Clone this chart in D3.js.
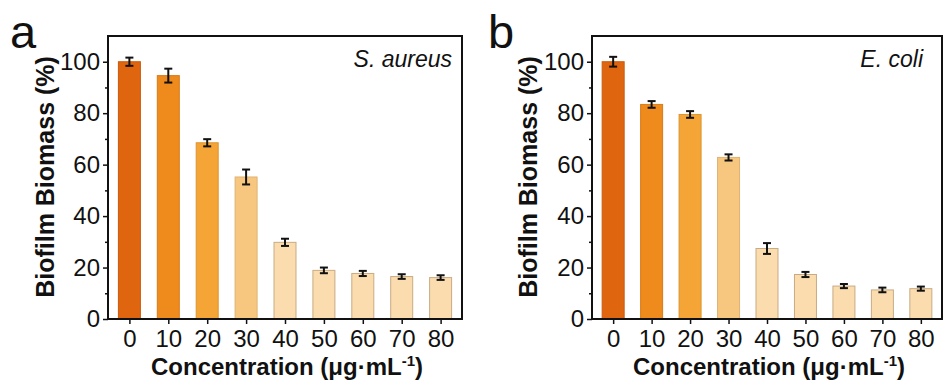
<!DOCTYPE html>
<html>
<head>
<meta charset="utf-8">
<script src="https://cdn.jsdelivr.net/npm/d3@7"></script>
<style>
  body { margin: 0; background: #fff; }
  svg { font-family: Arial, "Liberation Sans", sans-serif; }
</style>
</head>
<body>
<svg id="chart" width="943" height="383"></svg>
<script>
const concentrations = [0, 10, 20, 30, 40, 50, 60, 70, 80];
const barColors = ["#e0650f", "#ef8a1c", "#f4a535", "#f7c77f", "#fadcaf", "#fadcaf", "#fadcaf", "#fadcaf", "#fadcaf"];
const saureusMean = [100, 94.6, 68.5, 55.2, 29.8, 18.9, 17.7, 16.5, 16.1];
const saureusErr  = [1.6, 2.7, 1.4, 2.9, 1.4, 1.1, 1.0, 0.9, 0.9];
const ecoliMean   = [100, 83.4, 79.5, 62.8, 27.4, 17.3, 12.8, 11.3, 11.8];
const ecoliErr    = [1.9, 1.3, 1.3, 1.2, 2.1, 1.0, 0.8, 0.9, 0.8];
const yTicks = [0, 20, 40, 60, 80, 100];

const svg = d3.select("#chart");

function drawPanel(opts) {
  const { left, right, letter, letterX, species, means, errs, ylabelX } = opts;
  const top = 36, bottom = 319;
  const g = svg.append("g");

  const x = d3.scaleLinear().domain([-5.5, 85.5]).range([left, right]);
  const y = d3.scaleLinear().domain([0, 110]).range([bottom, top]);
  const bw = 22;

  // bars
  g.selectAll(".bar")
    .data(concentrations)
    .join("rect")
    .attr("class", "bar")
    .attr("x", d => x(d) - bw / 2)
    .attr("width", bw)
    .attr("y", (d, i) => y(means[i]))
    .attr("height", (d, i) => bottom - y(means[i]))
    .attr("fill", (d, i) => barColors[i])
    .attr("stroke", (d, i) => i < 4 ? d3.color(barColors[i]).darker(0.3) : "#c9ab83")
    .attr("stroke-width", 1);

  // error bars
  const eb = g.selectAll(".err")
    .data(concentrations)
    .join("g")
    .attr("class", "err")
    .attr("stroke", "#111")
    .attr("stroke-width", 2);
  eb.append("line")
    .attr("x1", d => x(d)).attr("x2", d => x(d))
    .attr("y1", (d, i) => y(means[i] - errs[i]))
    .attr("y2", (d, i) => y(means[i] + errs[i]));
  eb.append("line")
    .attr("x1", d => x(d) - 4).attr("x2", d => x(d) + 4)
    .attr("y1", (d, i) => y(means[i] + errs[i]))
    .attr("y2", (d, i) => y(means[i] + errs[i]));
  eb.append("line")
    .attr("x1", d => x(d) - 4).attr("x2", d => x(d) + 4)
    .attr("y1", (d, i) => y(means[i] - errs[i]))
    .attr("y2", (d, i) => y(means[i] - errs[i]));

  // frame
  g.append("rect")
    .attr("x", left).attr("y", top)
    .attr("width", right - left).attr("height", bottom - top)
    .attr("fill", "none").attr("stroke", "#111").attr("stroke-width", 2);

  // y axis
  const ya = g.append("g")
    .attr("transform", `translate(${left},0)`)
    .call(d3.axisLeft(y).tickValues(yTicks).tickSize(5).tickPadding(3));
  ya.select(".domain").remove();
  ya.selectAll("line").attr("stroke", "#111").attr("stroke-width", 1.5);
  ya.selectAll("text").attr("font-size", 24).attr("fill", "#111");
  g.append("g")
    .attr("transform", `translate(${left},0)`)
    .call(d3.axisLeft(y).tickValues([10, 30, 50, 70, 90]).tickSize(3).tickFormat(""))
    .call(s => s.select(".domain").remove())
    .selectAll("line").attr("stroke", "#111").attr("stroke-width", 1.5);

  // x axis
  const xa = g.append("g")
    .attr("transform", `translate(0,${bottom})`)
    .call(d3.axisBottom(x).tickValues(concentrations).tickSize(5).tickPadding(6));
  xa.select(".domain").remove();
  xa.selectAll("line").attr("stroke", "#111").attr("stroke-width", 1.5);
  xa.selectAll("text").attr("font-size", 24).attr("fill", "#111");

  // axis titles
  const xt = g.append("text")
    .attr("x", (left + right) / 2 + 2)
    .attr("y", 375)
    .attr("text-anchor", "middle")
    .attr("font-size", 24)
    .attr("font-weight", "bold")
    .attr("fill", "#111");
  xt.append("tspan").text("Concentration (μg·mL");
  xt.append("tspan").attr("dy", -9).attr("font-size", 15).text("-1");
  xt.append("tspan").attr("dy", 9).text(")");

  g.append("text")
    .attr("transform", `translate(${ylabelX},177) rotate(-90)`)
    .attr("text-anchor", "middle")
    .attr("font-size", 25)
    .attr("font-weight", "bold")
    .attr("fill", "#111")
    .text("Biofilm Biomass (%)");

  // species label
  g.append("text")
    .attr("x", opts.speciesX)
    .attr("y", 67)
    .attr("text-anchor", "end")
    .attr("font-size", 23)
    .attr("font-style", "italic")
    .attr("fill", "#111")
    .text(species);

  // panel letter
  svg.append("text")
    .attr("x", letterX)
    .attr("y", 48)
    .attr("font-size", 47)
    .attr("fill", "#111")
    .text(letter);
}

drawPanel({ left: 108, right: 462, letter: "a", letterX: 10, species: "S. aureus", speciesX: 452,
  means: saureusMean, errs: saureusErr, ylabelX: 54 });
drawPanel({ left: 592, right: 942, letter: "b", letterX: 488, species: "E. coli", speciesX: 923,
  means: ecoliMean, errs: ecoliErr, ylabelX: 537 });
</script>
</body>
</html>
